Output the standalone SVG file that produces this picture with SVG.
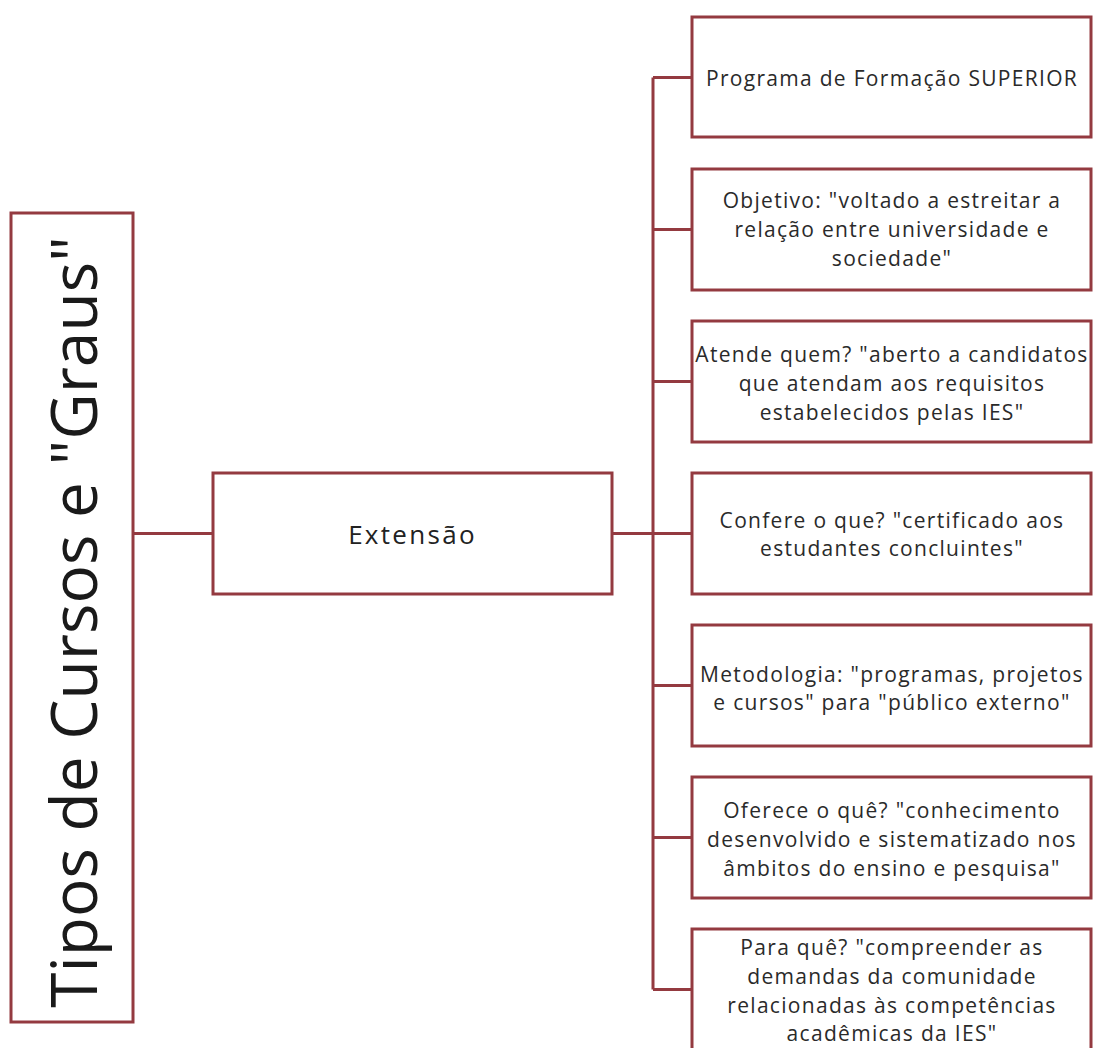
<svg xmlns="http://www.w3.org/2000/svg" width="1095" height="1048" viewBox="0 0 1095 1048">
<style>
.box{fill:#ffffff;stroke:#943a40;stroke-width:3}
.conn{fill:none;stroke:#943a40;stroke-width:3}
.t{font-family:"Open Sans","Liberation Sans",sans-serif;font-size:21px;letter-spacing:1.3px;fill:#2a2a2a;text-anchor:middle;dominant-baseline:central}
.big{font-family:"Open Sans","Liberation Sans",sans-serif;font-size:64px;fill:#1a1a1a;text-anchor:middle;dominant-baseline:central}
.mid{font-family:"Open Sans","Liberation Sans",sans-serif;font-size:26px;letter-spacing:2.3px;fill:#222;text-anchor:middle;dominant-baseline:central}
</style>
<rect width="1095" height="1048" fill="#ffffff"/>
<g id="connectors">
<path class="conn" d="M133 533.5 H213"/>
<path class="conn" d="M612 533.5 H692"/>
<path class="conn" d="M653 77.5 V989.5"/>
<path class="conn" d="M653 77.5 H692 M653 229.5 H692 M653 381.5 H692 M653 685.5 H692 M653 837.5 H692 M653 989.5 H692"/>
</g>
<g id="root">
<rect class="box" x="11" y="213" width="122" height="809"/>
<text class="big" transform="translate(72 622) rotate(-90)">Tipos de Cursos e "Graus"</text>
</g>
<g id="extensao">
<rect class="box" x="213" y="473" width="399" height="121"/>
<text class="mid" x="412.5" y="533.5">Extensão</text>
</g>
<g id="n1">
<rect class="box" x="692" y="17" width="399" height="120"/>
<text class="t" x="892" y="78">Programa de Formação SUPERIOR</text>
</g>
<g id="n2">
<rect class="box" x="692" y="169" width="399" height="121"/>
<text class="t" x="892" y="200">Objetivo: "voltado a estreitar a</text>
<text class="t" x="892" y="229">relação entre universidade e</text>
<text class="t" x="892" y="258">sociedade"</text>
</g>
<g id="n3">
<rect class="box" x="692" y="321" width="399" height="121"/>
<text class="t" x="892" y="354">Atende quem? "aberto a candidatos</text>
<text class="t" x="892" y="383">que atendam aos requisitos</text>
<text class="t" x="892" y="412">estabelecidos pelas IES"</text>
</g>
<g id="n4">
<rect class="box" x="692" y="473" width="399" height="121"/>
<text class="t" x="892" y="520">Confere o que? "certificado aos</text>
<text class="t" x="892" y="548">estudantes concluintes"</text>
</g>
<g id="n5">
<rect class="box" x="692" y="625" width="399" height="121"/>
<text class="t" x="892" y="674">Metodologia: "programas, projetos</text>
<text class="t" x="892" y="702">e cursos" para "público externo"</text>
</g>
<g id="n6">
<rect class="box" x="692" y="777" width="399" height="121"/>
<text class="t" x="892" y="810">Oferece o quê? "conhecimento</text>
<text class="t" x="892" y="839">desenvolvido e sistematizado nos</text>
<text class="t" x="892" y="868">âmbitos do ensino e pesquisa"</text>
</g>
<g id="n7">
<rect class="box" x="692" y="929" width="399" height="130"/>
<text class="t" x="892" y="947">Para quê? "compreender as</text>
<text class="t" x="892" y="976">demandas da comunidade</text>
<text class="t" x="892" y="1005">relacionadas às competências</text>
<text class="t" x="892" y="1033">acadêmicas da IES"</text>
</g>
</svg>
